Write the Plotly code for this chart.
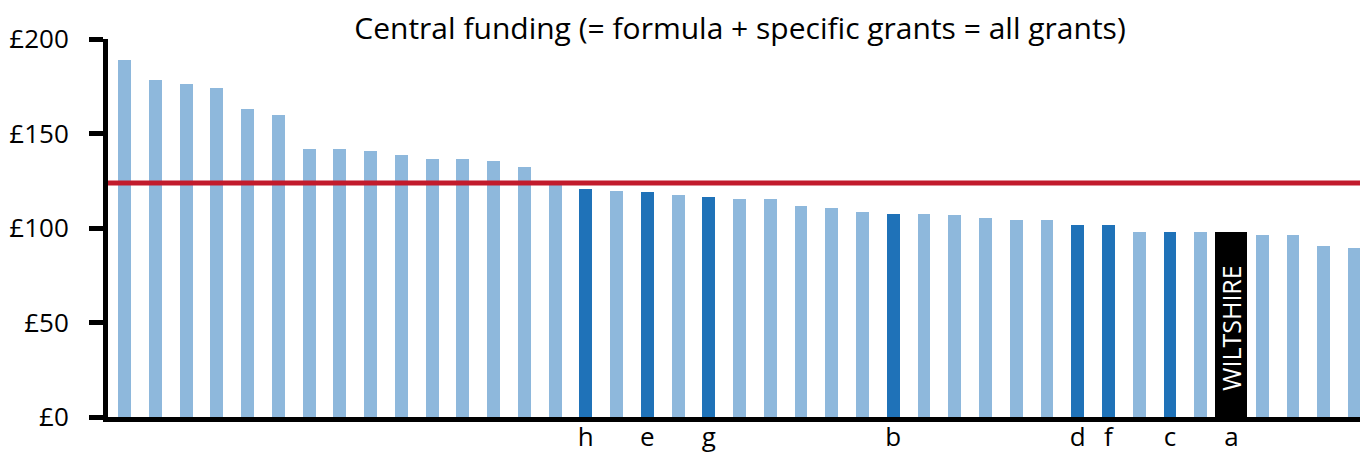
import plotly.graph_objects as go

# ---- data ----
values = [188.9, 178.3, 176.2, 174.1, 163.0, 159.8, 141.8, 141.8, 140.7, 138.6,
          136.5, 136.5, 135.4, 132.3, 122.8, 120.6, 119.6, 119.0, 117.5, 116.4,
          115.3, 115.3, 111.6, 110.6, 108.5, 107.4, 107.4, 106.9, 105.3, 104.2,
          104.2, 101.6, 101.6, 97.9, 97.9, 97.9, 97.9, 96.3, 96.3, 90.5, 89.4]
# group: 0 = other authority, 1 = comparator (lettered), 2 = Wiltshire
groups = [0]*41
letters = {15: "h", 17: "e", 19: "g", 25: "b", 31: "d", 32: "f", 34: "c", 36: "a"}
for i in letters:
    groups[i] = 1
wiltshire_index = 36
groups[wiltshire_index] = 2
average = 123.8
title_text = "Central funding (= formula + specific grants = all grants)"
y_ticks = [0, 50, 100, 150, 200]

# ---- styles ----
colors = {0: "#8EB8DC", 1: "#1F72B8", 2: "#000000"}
widths = {0: 0.42, 1: 0.42, 2: 1.04}
FONT = "Open Sans"

x = list(range(len(values)))
fig = go.Figure()
fig.add_trace(go.Bar(
    x=x, y=values,
    marker=dict(color=[colors[g] for g in groups], line=dict(width=0)),
    width=[widths[g] for g in groups],
    hoverinfo="y",
))

fig.add_shape(type="line", xref="paper", yref="y", x0=0, x1=1, y0=average, y1=average,
              line=dict(color="#C21B2C", width=5), layer="above")

fig.add_annotation(x=wiltshire_index, y=47, xref="x", yref="y", text="WILTSHIRE",
                   textangle=-90, showarrow=False,
                   font=dict(family=FONT, size=25, color="white"))

fig.update_layout(
    width=1360, height=455,
    margin=dict(l=108, r=0, t=39, b=38, autoexpand=False),
    paper_bgcolor="white", plot_bgcolor="white",
    showlegend=False,
    title=dict(text=title_text, x=740/1360, xanchor="center", xref="container",
               y=1-28/455, yanchor="middle", yref="container", automargin=False,
               font=dict(family=FONT, size=30, color="black")),
    font=dict(family=FONT, color="black"),
    bargap=0,
)
fig.update_xaxes(
    range=[-0.54, 40.18], automargin=False,
    showline=True, linewidth=5, linecolor="black",
    tickmode="array", tickvals=list(letters.keys()), ticktext=list(letters.values()),
    ticks="", showgrid=False, zeroline=False,
    ticklabelstandoff=-7,
    tickfont=dict(family=FONT, size=26, color="black"),
)
fig.update_yaxes(
    range=[0, 200], automargin=False,
    showline=True, linewidth=5, linecolor="black",
    tickmode="array", tickvals=y_ticks, ticktext=[f"£{v}" for v in y_ticks],
    ticks="outside", ticklen=14, tickwidth=5, tickcolor="black",
    ticklabelstandoff=15,
    showgrid=False, zeroline=False,
    tickfont=dict(family=FONT, size=26, color="black"),
)

fig.write_html("out.html", config={"displayModeBar": False},
               post_script="document.body.style.margin='0';")
